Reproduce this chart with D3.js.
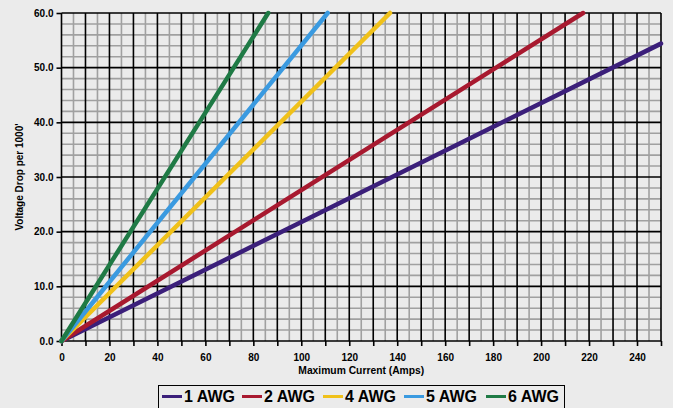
<!DOCTYPE html>
<html>
<head>
<meta charset="utf-8">
<script src="https://cdn.jsdelivr.net/npm/d3@7"></script>
<style>
  html, body { margin: 0; padding: 0; background: #ebebeb; }
  svg { display: block; font-family: "Liberation Sans", Arial, sans-serif; }
</style>
</head>
<body>
<svg id="chart" width="673" height="408"></svg>
<script>
// Wire gauges and the current (amps) at which each line reaches its end point
var gauges   = ["1 AWG", "2 AWG", "4 AWG", "5 AWG", "6 AWG"];
var colors   = ["#3b1f7a", "#a8192f", "#f0c11a", "#3a9ae0", "#1f7a45"];
var endAmps  = [250, 217.5, 137, 111, 86.2];
var endVolts = [54.4, 60, 60, 60, 60];

var xTicks = [0, 20, 40, 60, 80, 100, 120, 140, 160, 180, 200, 220, 240];
var yTicks = [0, 10, 20, 30, 40, 50, 60];

var svg = d3.select("#chart");

var x = d3.scaleLinear().domain([0, 250]).range([61.5, 661]);
var y = d3.scaleLinear().domain([0, 60]).range([341, 13]);

// Minor grid
svg.append("g").selectAll("line")
  .data(d3.range(5, 250, 10))
  .enter().append("line")
  .attr("x1", function(d) { return x(d); }).attr("x2", function(d) { return x(d); })
  .attr("y1", y(0)).attr("y2", y(60))
  .attr("stroke", "#a0a0a0").attr("stroke-width", 1.6);

svg.append("g").selectAll("line")
  .data(d3.range(0, 60, 2).filter(function(d) { return d % 10 !== 0; }))
  .enter().append("line")
  .attr("x1", x(0)).attr("x2", x(250))
  .attr("y1", function(d) { return y(d); }).attr("y2", function(d) { return y(d); })
  .attr("stroke", "#a0a0a0").attr("stroke-width", 1.6);

// Major grid
svg.append("g").selectAll("line")
  .data(d3.range(0, 251, 10))
  .enter().append("line")
  .attr("x1", function(d) { return x(d); }).attr("x2", function(d) { return x(d); })
  .attr("y1", y(0)).attr("y2", y(60))
  .attr("stroke", "#000").attr("stroke-width", 1.6);

svg.append("g").selectAll("line")
  .data(d3.range(0, 61, 10))
  .enter().append("line")
  .attr("x1", x(0)).attr("x2", x(250))
  .attr("y1", function(d) { return y(d); }).attr("y2", function(d) { return y(d); })
  .attr("stroke", "#000").attr("stroke-width", 1.6);

// Axes
svg.append("g")
  .attr("transform", "translate(0," + y(0) + ")")
  .call(d3.axisBottom(x).tickValues(d3.range(0, 251, 10)).tickSize(5)
    .tickFormat(function(d) { return xTicks.indexOf(d) >= 0 ? d : ""; }))
  .call(function(g) {
    g.select(".domain").remove();
    g.selectAll("line").attr("stroke", "#000").attr("stroke-width", 1.6);
    g.selectAll("text").attr("dy", "1.2em")
      .style("font-size", "10px").style("font-weight", "bold").attr("fill", "#000");
  });

svg.append("g")
  .attr("transform", "translate(" + x(0) + ",0)")
  .call(d3.axisLeft(y).tickValues(yTicks).tickSize(5).tickFormat(d3.format(".1f")))
  .call(function(g) {
    g.select(".domain").remove();
    g.selectAll("line").attr("stroke", "#000").attr("stroke-width", 1.6);
    g.selectAll("text").attr("x", -8)
      .style("font-size", "10px").style("font-weight", "bold").attr("fill", "#000");
  });

// Series lines
var line = d3.line()
  .x(function(d) { return x(d[0]); })
  .y(function(d) { return y(d[1]); });

gauges.forEach(function(g, i) {
  svg.append("path")
    .attr("d", line([[0, 0], [endAmps[i], endVolts[i]]]))
    .attr("fill", "none")
    .attr("stroke", colors[i])
    .attr("stroke-width", 4.5)
    .attr("stroke-linecap", "round");
});

// Axis titles
svg.append("text")
  .attr("x", (x(0) + x(250)) / 2).attr("y", 374)
  .attr("text-anchor", "middle")
  .style("font-size", "10.3px").style("font-weight", "bold")
  .text("Maximum Current (Amps)");

svg.append("text")
  .attr("transform", "translate(23," + (y(30)) + ") rotate(-90)")
  .attr("text-anchor", "middle")
  .style("font-size", "10px").style("font-weight", "bold")
  .text("Voltage Drop per 1000'");

// Legend
var legend = svg.append("g");
legend.append("rect")
  .attr("x", 158.5).attr("y", 385.5).attr("width", 406).attr("height", 25)
  .attr("fill", "none").attr("stroke", "#000").attr("stroke-width", 1);

var legendX = [162, 242, 323, 404, 486];
gauges.forEach(function(g, i) {
  var lx = legendX[i];
  legend.append("line")
    .attr("x1", lx).attr("x2", lx + 20)
    .attr("y1", 396.5).attr("y2", 396.5)
    .attr("stroke", colors[i]).attr("stroke-width", 3);
  legend.append("text")
    .attr("x", lx + 22).attr("y", 402)
    .style("font-size", "16px").style("font-weight", "bold")
    .text(g);
});
</script>
</body>
</html>
